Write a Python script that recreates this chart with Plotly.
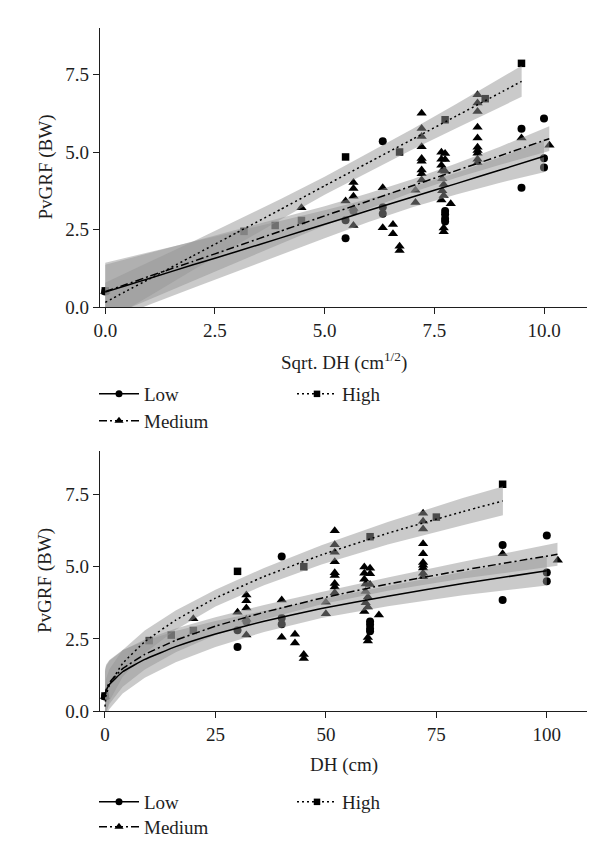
import math
import plotly.graph_objects as go

# ---------------- data ----------------
groups = ["Low", "Medium", "High"]

low_dh = [0, 30, 30, 32, 40, 40, 40, 60, 60, 60, 60, 90, 90, 100, 100, 100]
low_y = [0.5, 2.8, 2.22, 3.1, 5.35, 3.22, 3.01, 3.1, 2.99, 2.85, 2.76, 5.75, 3.85, 6.08, 4.8, 4.5]

med_dh = [0, 20, 30,
          32, 32, 32, 32, 32,
          40, 40, 43, 43, 45, 45, 50, 50,
          52, 52, 52, 52, 52, 52, 52, 52, 52,
          58.7, 60, 58.7, 60, 58.7, 59, 60, 59, 59.5, 59, 59.5, 58.7, 62, 59.5, 59.5,
          72, 72, 72, 72, 72, 72, 72, 72, 72, 72,
          90, 102.5]
med_y = [0.5, 3.2, 3.42,
         4.02, 3.82, 3.57, 3.18, 2.63,
         3.85, 2.56, 2.66, 2.36, 1.96, 1.82, 3.77, 3.37,
         6.25, 5.76, 5.5, 5.17, 4.79, 4.7, 4.42, 4.3, 4.1,
         4.99, 4.95, 4.77, 4.76, 4.57, 4.4, 4.38, 4.14, 3.95, 3.75, 3.6, 3.45, 3.33, 2.55, 2.43,
         6.85, 6.58, 6.31, 5.8, 5.45, 5.15, 5.05, 4.96, 4.77, 4.65,
         5.45, 5.22]

high_dh = [0, 10, 15, 20, 30, 45, 60, 75, 90]
high_y = [0.52, 2.44, 2.63, 2.79, 4.84, 5.0, 6.04, 6.72, 7.86]

# fitted lines and 95% bands, read on the sqrt(DH) scale
fit_s_low = [0, 0.5, 1, 2, 3, 4, 5, 6, 7, 8, 9, 10]
fit_low = [0.48, 0.70, 0.92, 1.36, 1.79, 2.23, 2.67, 3.11, 3.55, 3.98, 4.42, 4.86]
fit_low_lo = [-0.47, -0.20, 0.07, 0.61, 1.15, 1.69, 2.22, 2.74, 3.22, 3.63, 4.01, 4.35]
fit_low_hi = [1.43, 1.60, 1.77, 2.11, 2.43, 2.77, 3.12, 3.48, 3.88, 4.33, 4.83, 5.37]

fit_s_med = [0, 0.5, 1, 2, 3, 4, 5, 6, 7, 8, 9, 10.12]
fit_med = [0.50, 0.74, 0.99, 1.47, 1.96, 2.45, 2.94, 3.42, 3.91, 4.40, 4.88, 5.43]
fit_med_lo = [-0.36, -0.07, 0.24, 0.84, 1.44, 2.04, 2.63, 3.17, 3.70, 4.17, 4.59, 5.03]
fit_med_hi = [1.36, 1.55, 1.74, 2.10, 2.48, 2.86, 3.25, 3.67, 4.12, 4.63, 5.17, 5.83]

fit_s_high = [0, 0.5, 1, 2, 3, 4, 5, 6, 7, 8, 9, 9.49]
fit_high = [0.15, 0.53, 0.90, 1.65, 2.40, 3.15, 3.91, 4.66, 5.41, 6.16, 6.91, 7.28]
fit_high_lo = [-0.48, -0.06, 0.35, 1.19, 2.01, 2.82, 3.62, 4.36, 5.08, 5.77, 6.44, 6.78]
fit_high_hi = [0.78, 1.12, 1.45, 2.11, 2.79, 3.48, 4.20, 4.96, 5.74, 6.55, 7.38, 7.78]

y_ticks = [0, 2.5, 5, 7.5]
x1_ticks = [0, 2.5, 5, 7.5, 10]
x2_ticks = [0, 25, 50, 75, 100]

# ---------------- styling ----------------
FONT = "Liberation Serif"
FS = 19
INK = "#1e1e1e"
RIBBON = "rgba(150,150,150,0.5)"
styles = {
    "Low": dict(symbol="circle", size=8, dash="solid"),
    "Medium": dict(symbol="triangle-up", size=9, dash="8px,3px,2px,3px"),
    "High": dict(symbol="square", size=7.5, dash="2px,3px"),
}
pts = {"Low": (low_dh, low_y), "Medium": (med_dh, med_y), "High": (high_dh, high_y)}
fits = {
    "Low": (fit_s_low, fit_low, fit_low_lo, fit_low_hi),
    "Medium": (fit_s_med, fit_med, fit_med_lo, fit_med_hi),
    "High": (fit_s_high, fit_high, fit_high_lo, fit_high_hi),
}

fig = go.Figure()

panels = [("x", "y", True), ("x2", "y2", False)]

# points (under the bands)
for xa, ya, is_sqrt in panels:
    for g in groups:
        dh, yy = pts[g]
        xx = [math.sqrt(v) for v in dh] if is_sqrt else dh
        fig.add_trace(go.Scatter(
            x=xx, y=yy, mode="markers", xaxis=xa, yaxis=ya, showlegend=False,
            marker=dict(symbol=styles[g]["symbol"], size=styles[g]["size"], color="black",
                        line=dict(width=0)),
        ))

# confidence bands
for xa, ya, is_sqrt in panels:
    for g in groups:
        s, f, lo, hi = fits[g]
        xx = s if is_sqrt else [v * v for v in s]
        fig.add_trace(go.Scatter(
            x=list(xx) + list(xx)[::-1], y=list(hi) + list(lo)[::-1],
            mode="lines", fill="toself", fillcolor=RIBBON, line=dict(width=0),
            xaxis=xa, yaxis=ya, showlegend=False, hoverinfo="skip",
        ))

# fitted lines
for xa, ya, is_sqrt in panels:
    for g in groups:
        s, f, lo, hi = fits[g]
        xx = s if is_sqrt else [v * v for v in s]
        fig.add_trace(go.Scatter(
            x=xx, y=f, mode="lines", xaxis=xa, yaxis=ya, showlegend=False,
            line=dict(color="black", width=1.5, dash=styles[g]["dash"], shape="spline", smoothing=0.3),
        ))

# legends (one per entry so the 2-column layout can be matched)
legend_pos = {
    ("top", "Low"): (86, 386), ("top", "Medium"): (86, 413), ("top", "High"): (284, 386),
    ("bot", "Low"): (86, 794), ("bot", "Medium"): (86, 819), ("bot", "High"): (284, 794),
}
leg_layout = {}
k = 1
for panel in ["top", "bot"]:
    for g in groups:
        name = "legend" if k == 1 else f"legend{k}"
        px, py = legend_pos[(panel, g)]
        fig.add_trace(go.Scatter(
            x=[None], y=[None], mode="lines+markers", name=g, legend=name,
            xaxis="x", yaxis="y",
            marker=dict(symbol=styles[g]["symbol"], size=styles[g]["size"] - 1, color="black"),
            line=dict(color="black", width=1.5, dash=styles[g]["dash"]),
        ))
        leg_layout[name] = dict(
            x=px / 600, y=1 - py / 852, xref="container", yref="container",
            xanchor="left", yanchor="middle", bgcolor="rgba(0,0,0,0)",
            font=dict(family=FONT, size=FS, color=INK), itemwidth=40,
        )
        k += 1

axis_common = dict(
    showgrid=False, zeroline=False, showline=True, linecolor=INK, linewidth=1.3,
    ticks="outside", ticklen=6, tickwidth=1.3, tickcolor=INK,
    tickfont=dict(family=FONT, size=FS, color=INK), automargin=False,
)

H_T, H_B = 20, 149
plot_h = 852 - H_T - H_B

def py2paper(py):
    return (852 - H_B - py) / plot_h

fig.update_layout(
    width=600, height=852,
    margin=dict(l=92, r=21, t=H_T, b=H_B, autoexpand=False),
    paper_bgcolor="white", plot_bgcolor="white",
    showlegend=True,
    xaxis=dict(axis_common, domain=[0, 1], range=[-0.12, 10.98], tickvals=x1_ticks,
               tickformat=".1f", anchor="y"),
    yaxis=dict(axis_common, domain=[py2paper(299), 1], range=[0, 9.0], tickvals=y_ticks,
               tickformat=".1f", anchor="x"),
    xaxis2=dict(axis_common, domain=[0, 1], range=[-1.13, 109.1], tickvals=x2_ticks,
                tickformat="d", anchor="y2"),
    yaxis2=dict(axis_common, domain=[0, py2paper(443.3)], range=[0, 9.0], tickvals=y_ticks,
                tickformat=".1f", anchor="x2"),
    **leg_layout,
)

ann_font = dict(family=FONT, size=FS, color=INK)
fig.add_annotation(text="Sqrt. DH (cm<sup>1/2</sup>)", xref="paper", yref="paper",
                   x=0.5, y=py2paper(353), showarrow=False, font=ann_font,
                   xanchor="center", yanchor="middle")
fig.add_annotation(text="DH (cm)", xref="paper", yref="paper",
                   x=0.5, y=py2paper(757), showarrow=False, font=ann_font,
                   xanchor="center", yanchor="middle")
for cy in [(20 + 299) / 2, (443.3 + 702.7) / 2]:
    fig.add_annotation(text="PvGRF (BW)", xref="paper", yref="paper",
                       x=(37 - 92) / 487, y=py2paper(cy), showarrow=False, font=ann_font,
                       textangle=-90, xanchor="center", yanchor="middle")

fig.write_html("out.html")
